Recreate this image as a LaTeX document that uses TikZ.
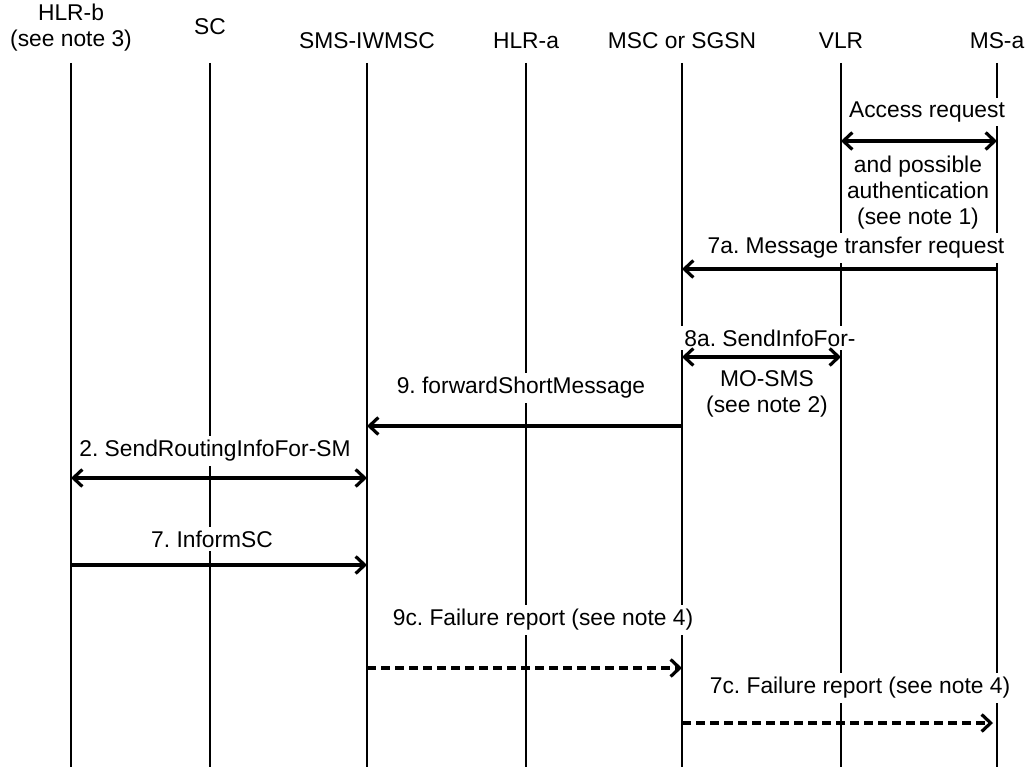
\documentclass[tikz,border=0pt]{standalone}
\usepackage{fontspec}
\setmainfont{Liberation Sans}
\usetikzlibrary{arrows.meta}
\frenchspacing

\begin{document}
\begin{tikzpicture}[x=1pt,y=-1pt,
  every node/.style={font=\fontsize{22.8}{26}\selectfont},
  head/.style={align=center,inner sep=0pt},
  note/.style={fill=white,align=center,inner sep=4pt},
  lifeline/.style={line width=1.4pt},
  msg/.style={line width=3.2pt,-{Straight Barb[length=9pt,width=17pt]}},
  both/.style={line width=3.2pt,{Straight Barb[length=9pt,width=17pt]}-{Straight Barb[length=9pt,width=17pt]}},
  fail/.style={msg,dash pattern=on 9pt off 5pt}]
  \useasboundingbox (0,0) rectangle (1028,767);
  % entities and their lifelines
  \foreach \x/\n/\y/\t in {71/hlrb/28/{HLR-b\\(see note 3)},210/sc/27/SC,367/iwmsc/41/SMS-IWMSC,
      526/hlra/41/HLR-a,682/msc/41/MSC or SGSN,841/vlr/41/VLR,997/msa/41/MS-a} {
    \node[head] (\n) at (\x,\y) {\t};
    \coordinate (\n-top) at (\x,63);
    \coordinate (\n-bot) at (\x,767);
    \draw[lifeline] (\n-top) -- (\n-bot);
  }
  % message texts
  \node[note] (acc) at (927,112) {Access request};
  \node[note] (auth) at (918,193) {and possible\\authentication\\(see note 1)};
  \node[note] (m7a) at (856,248) {7a. Message transfer request};
  \node[note] (m8a) at (770,338) {8a. SendInfoFor-};
  \node[note] (mosms) at (767,394) {MO-SMS\\(see note 2)};
  \node[note] (m9) at (521,388) {9. forwardShortMessage};
  \node[note] (m2) at (215,451) {2. SendRoutingInfoFor-SM};
  \node[note] (m7) at (212,539) {7. InformSC};
  \node[note] (m9c) at (543,620) {9c. Failure report (see note 4)};
  \node[note] (m7c) at (860,688) {7c. Failure report (see note 4)};
  % messages
  \draw[both] (vlr-top |- 0,141) -- (msa-top |- 0,141);
  \draw[msg] (msa-top |- 0,269) -- (msc-top |- 0,269);
  \draw[both] (msc-top |- 0,357) -- (vlr-top |- 0,357);
  \draw[msg] (msc-top |- 0,426) -- (iwmsc-top |- 0,426);
  \draw[both] (hlrb-top |- 0,478) -- (iwmsc-top |- 0,478);
  \draw[msg] (hlrb-top |- 0,565) -- (iwmsc-top |- 0,565);
  \draw[fail] (iwmsc-top |- 0,668) -- (msc-top |- 0,668);
  \draw[fail] (msc-top |- 0,723) -- ([xshift=-4pt]msa-top |- 0,723);
\end{tikzpicture}
\end{document}
